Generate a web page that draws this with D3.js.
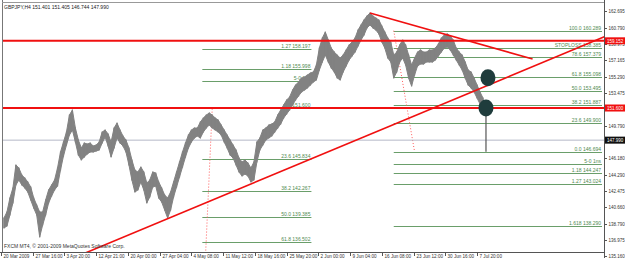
<!DOCTYPE html>
<html><head><meta charset="utf-8">
<script src="https://cdn.jsdelivr.net/npm/d3@7"></script>
<style>body{margin:0;background:#fff} svg{display:block} text{font-family:"Liberation Sans",Arial,sans-serif}</style>
</head><body><svg id="c" width="625" height="261"></svg>
<script>
// ---- data ----
const header = "GBPJPY,H4  151.401 151.405 146.744 147.990";
const copyright = "FXCM MT4, \u00A9 2001-2009 MetaQuotes Software Corp.";
// one entry = 3 H4 bars (last entry = last single bar)
const highs = [139.24,139.92,141.49,142.61,145.20,144.86,144.07,143.73,143.29,142.72,
141.49,140.70,139.92,139.92,141.26,142.39,142.95,143.51,144.86,146.66,
147.78,148.90,150.81,151.38,149.35,148.00,147.11,147.67,147.55,147.67,
147.33,147.44,147.78,148.90,149.13,148.68,147.78,149.35,149.91,149.13,
148.45,148.00,147.11,145.76,144.63,144.41,144.97,144.41,143.17,143.51,
144.41,144.30,143.29,142.61,141.83,141.49,142.16,143.29,144.41,145.53,
146.66,147.67,148.57,149.13,149.35,149.35,150.03,150.48,150.81,151.04,
150.81,150.48,150.25,149.69,149.13,148.57,148.00,147.44,146.88,145.98,
145.53,145.76,145.42,144.86,145.53,147.78,148.23,149.13,149.35,149.69,
149.80,150.03,150.81,151.38,151.94,152.50,152.84,153.62,154.19,154.52,
154.97,155.08,155.31,155.53,155.65,156.43,158.34,159.47,160.14,159.24,
158.34,157.89,157.56,157.22,157.56,158.12,158.68,159.02,159.47,160.36,
160.93,161.49,161.94,162.27,161.94,161.71,161.49,160.81,160.14,159.47,
159.02,157.56,157.89,158.68,159.24,158.68,157.56,156.43,157.22,157.89,
158.12,157.89,157.89,158.12,158.12,158.34,158.79,159.47,159.80,159.92,
159.69,159.24,158.34,157.89,157.56,156.77,155.87,155.65,154.97,154.19,
153.40,152.72,151.405];
const lows = [138.12,138.34,139.58,140.93,142.95,143.51,142.95,142.61,142.16,141.26,
140.36,139.58,137.11,138.45,139.58,140.93,141.71,142.39,142.84,144.63,
146.21,147.44,148.57,149.13,147.78,146.32,145.76,146.10,146.43,146.66,
146.66,146.77,146.88,147.67,148.34,147.33,146.10,147.11,148.23,147.67,
147.33,146.66,145.20,143.51,142.16,142.39,143.29,142.39,140.93,141.60,
142.72,142.84,141.49,141.04,140.14,139.24,140.14,141.60,142.72,143.85,
144.97,146.10,147.11,147.78,148.23,148.45,148.23,148.90,149.35,149.69,
149.35,149.13,148.90,148.57,147.78,147.11,146.32,145.98,145.20,144.41,
143.96,144.18,143.96,143.29,143.51,145.53,146.88,147.44,148.00,148.23,
148.45,148.90,149.35,149.80,150.48,150.93,151.38,151.94,152.50,152.95,
153.40,153.62,153.85,154.19,154.52,154.75,155.87,156.77,157.56,156.77,
156.10,155.65,154.97,154.75,155.65,156.32,156.99,157.44,157.89,158.57,
159.24,159.80,160.59,160.93,160.59,160.36,159.92,159.02,158.34,157.22,
156.77,154.97,155.65,156.77,157.22,156.43,154.97,154.07,155.31,156.32,
156.54,156.54,156.77,156.77,156.77,156.99,157.44,157.89,158.34,158.45,
158.12,157.56,156.99,156.43,155.87,154.97,154.19,153.85,153.40,152.72,
152.05,151.15,146.744];
const timeLabels = ["20 Mar 2009","27 Mar 16:00","3 Apr 20:00","12 Apr 21:00","20 Apr 00:00","27 Apr 04:00","4 May 08:00","11 May 12:00","18 May 16:00","25 May 20:00","2 Jun 00:00","9 Jun 04:00","16 Jun 08:00","23 Jun 12:00","30 Jun 16:00","7 Jul 20:00"];
const priceTicks = [162.695,160.790,158.975,157.165,155.290,153.475,149.790,146.180,144.290,142.475,140.660,138.790,136.975,135.160];
const redLevels = [159.152, 151.600];
const bidPrice = 147.990;
// Fibonacci set 1 (left)
const fib1Levels = [158.197,155.998,154.60,151.600,145.834,142.267,139.385,136.502];
const fib1Names  = ["1.27","1.18","5-0 1ns","0.0","23.6","38.2","50.0","61.8"];
const fib1Anchor = [[203,127.17],[213,151.600]];   // [bar, price]
const fib1End = 313;
// Fibonacci set 2 (right)
const fib2Levels = [160.289,158.385,157.379,155.098,153.495,151.887,149.900,146.694,145.30,144.247,143.024,138.290];
const fib2Names  = ["100.0","STOPLOSS","78.6","61.8","50.0","38.2","23.6","0.0","5-0 1ns","1.18","1.27","1.618"];
const fib2Anchor = [[396,160.289],[417,146.694]];
const fib2End = 606;
// trend lines [bar, price]
const upTrend = [[85,135.31],[564,157.55]];
const downTrend = [[372,162.27],[536,157.10]];
// marker circles [bar, price]
const markers = [[491,155.0],[489,151.60]];

// ---- layout ----
const W=625,H=261, L=2, R=604, T=2, B=252;
const firstBar = 2, barsPerEntry = 3, barsPerLabel = 32;
const svg = d3.select("#c");
const x = d3.scaleLinear().domain([0,608]).range([1,604]);
const y = d3.scaleLinear().domain([135.31,163.40]).range([253,3]);
svg.append("rect").attr("width",W).attr("height",H).attr("fill","#fff");
svg.append("clipPath").attr("id","pc").append("rect").attr("x",L).attr("y",T).attr("width",R-L).attr("height",B-T);
const g = svg.append("g").attr("clip-path","url(#pc)");

const fibColor="#6a9e6a", fibText="#4f8a4f";
function fib(levels,names,anchor,end){
  const x0 = x(anchor[0][0]), x1 = x(end);
  levels.forEach((v,i)=>{
    g.append("line").attr("x1",x0).attr("x2",x1).attr("y1",Math.round(y(v))+0.5).attr("y2",Math.round(y(v))+0.5)
      .attr("stroke",fibColor).attr("stroke-width",1);
    const lab = names[i].startsWith("5-0") ? names[i] : names[i]+"  "+v.toFixed(3);
    g.append("text").attr("x",x1-1).attr("y",Math.round(y(v))-1).attr("text-anchor","end")
      .attr("font-size",5).attr("fill",fibText).text(lab);
  });
  g.append("line").attr("x1",x(anchor[0][0])).attr("y1",y(anchor[0][1])).attr("x2",x(anchor[1][0])).attr("y2",y(anchor[1][1]))
    .attr("stroke","#ff5a5a").attr("stroke-width",1).attr("stroke-dasharray","1,2");
}
fib(fib1Levels,fib1Names,fib1Anchor,fib1End);
fib(fib2Levels,fib2Names,fib2Anchor,fib2End);

// bid line
g.append("line").attr("x1",L).attr("x2",R).attr("y1",y(bidPrice)).attr("y2",y(bidPrice)).attr("stroke","#b4b8c8").attr("stroke-width",1);

// price: high-low band of the bars plus bar strokes
const n = highs.length;
const cx = j => x(firstBar+barsPerEntry*j+1);
const priceGray = "#828282";
const band = d3.area().x(j=>cx(j)).y0(j=>y(lows[j])).y1(j=>y(highs[j]));
g.append("path").datum(d3.range(n-1)).attr("d",band).attr("fill",priceGray)
  .attr("stroke",priceGray).attr("stroke-width",1).attr("stroke-linejoin","round");
g.selectAll("line.bar").data(d3.range(n)).join("line").attr("class","bar")
  .attr("x1",cx).attr("x2",cx)
  .attr("y1",j=>y(highs[j])-0.5).attr("y2",j=>y(lows[j])+0.5)
  .attr("stroke",j=> j===n-1 ? "#555" : priceGray)
  .attr("stroke-width",j=> j===n-1 ? 1.2 : 1.2);

// red horizontal lines
redLevels.forEach(v=>{
  g.append("line").attr("x1",L).attr("x2",R).attr("y1",y(v)).attr("y2",y(v)).attr("stroke","#f01010").attr("stroke-width",2);
});
// trend lines
function ray(p,extend){
  const s=(p[1][1]-p[0][1])/(p[1][0]-p[0][0]);
  const xe = extend? 640 : p[1][0];
  g.append("line").attr("x1",x(p[0][0])).attr("y1",y(p[0][1])).attr("x2",x(xe)).attr("y2",y(p[0][1]+s*(xe-p[0][0])))
   .attr("stroke","#f01010").attr("stroke-width",1.6);
}
ray(upTrend,true); ray(downTrend,false);
markers.forEach(m=>{
  g.append("ellipse").attr("cx",x(m[0])).attr("cy",y(m[1])).attr("rx",7.5).attr("ry",8.5).attr("fill","#1f3c3c");
});

// frame
svg.append("line").attr("x1",L+0.5).attr("x2",L+0.5).attr("y1",0).attr("y2",B).attr("stroke","#777");
svg.append("line").attr("x1",L).attr("x2",R).attr("y1",T+0.5).attr("y2",T+0.5).attr("stroke","#999");
svg.append("line").attr("x1",R+0.5).attr("x2",R+0.5).attr("y1",0).attr("y2",B+6).attr("stroke","#555");
svg.append("line").attr("x1",0).attr("x2",R).attr("y1",B+0.5).attr("y2",B+0.5).attr("stroke","#555");

// price axis
const ax = svg.append("g").attr("transform",`translate(${R},0)`);
priceTicks.forEach(v=>{
  const yy = Math.round(y(v))+2.5;
  ax.append("line").attr("x1",0).attr("x2",3).attr("y1",yy).attr("y2",yy).attr("stroke","#555");
  ax.append("text").attr("x",4.5).attr("y",yy+1.7).attr("font-size",4.5).attr("fill","#333").text(v.toFixed(3));
});
function box(v,fill){
  const yy=y(v);
  ax.append("rect").attr("x",1).attr("y",yy-3.5).attr("width",20).attr("height",7).attr("fill",fill);
  ax.append("text").attr("x",3).attr("y",yy+1.7).attr("font-size",4.5).attr("fill","#fff").text(v.toFixed(3));
}
redLevels.forEach(v=>box(v,"#f01010"));
box(bidPrice,"#101010");

// time axis
timeLabels.forEach((t,k)=>{
  const xx = Math.round(x(k*barsPerLabel))+0.5;
  svg.append("line").attr("x1",xx).attr("x2",xx).attr("y1",B).attr("y2",B+4).attr("stroke","#555");
  svg.append("text").attr("x",xx+2).attr("y",B+6).attr("font-size",4.6).attr("fill","#333").text(t);
});

svg.append("text").attr("x",4).attr("y",9).attr("font-size",5).attr("fill","#222").text(header);
svg.append("text").attr("x",4).attr("y",B-4).attr("font-size",5).attr("fill","#333").text(copyright);
</script></body></html>
